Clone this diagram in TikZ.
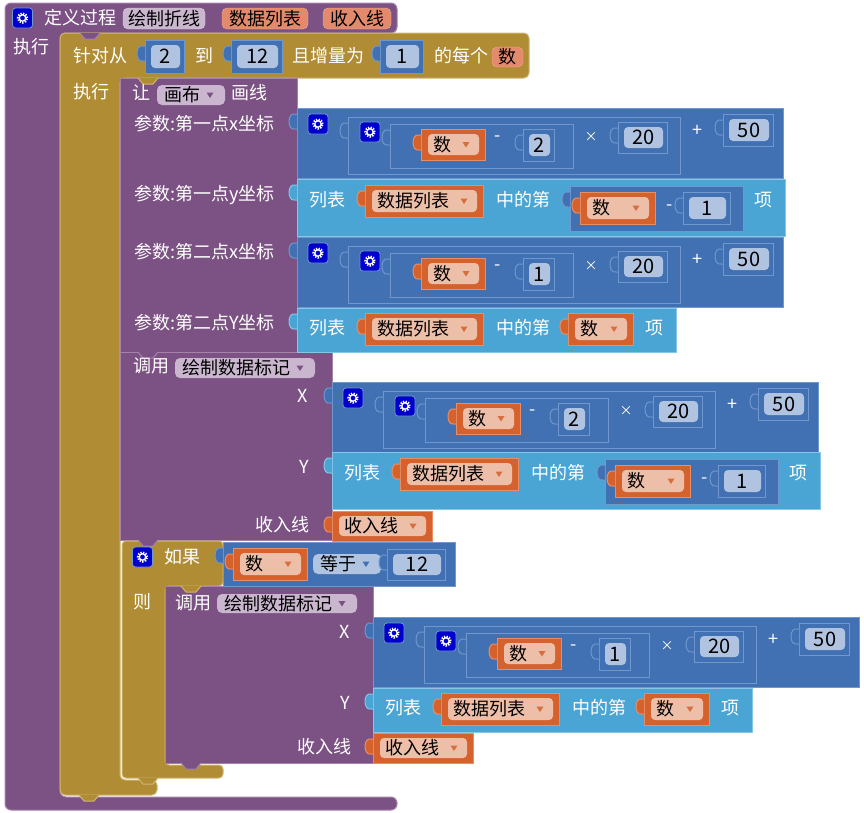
\documentclass[tikz,border=0pt]{standalone}
\usepackage{fontspec}
\setmainfont{Noto Sans CJK SC}
\usepackage{tikz}

\definecolor{procpurple}{RGB}{124,82,132}
\definecolor{procedge}{RGB}{165,130,170}
\definecolor{purplefld}{RGB}{202,183,207}
\definecolor{purpletri}{RGB}{124,82,132}
\definecolor{loopgold}{RGB}{176,141,52}
\definecolor{loopedge}{RGB}{208,183,112}
\definecolor{mathblue}{RGB}{65,113,178}
\definecolor{mathedge}{RGB}{112,152,206}
\definecolor{listblue}{RGB}{74,165,212}
\definecolor{listedge}{RGB}{135,198,230}
\definecolor{varorange}{RGB}{213,97,45}
\definecolor{varedge}{RGB}{232,142,102}
\definecolor{peach}{RGB}{237,190,168}
\definecolor{vartri}{RGB}{214,110,62}
\definecolor{salmon}{RGB}{228,138,108}
\definecolor{numfld}{RGB}{176,196,226}
\definecolor{gearblue}{RGB}{0,0,204}

\newcommand{\fs}{\fontsize{18}{20}\selectfont}
% output knob on the left side of a value block
\newcommand{\knob}[3]{\filldraw[#1] (#2,#3) -- (#2-2,#3) .. controls (#2-10,#3-2) and (#2-10,#3+17) .. (#2-2,#3+15) -- (#2,#3+15);}
% value block with its knob
\newcommand{\vblk}[5]{\filldraw[#1] (#2,#3) rectangle (#4,#5); \knob{#1}{#2}{#3+6}}
% tab under a statement block
\newcommand{\tabD}[3]{\filldraw[#1] (#2,#3) -- (#2+5,#3+6) -- (#2+15,#3+6) -- (#2+20,#3);}
\newcommand{\gear}[3]{%
  \filldraw[fill=gearblue,draw=mathedge,line width=0.8pt,rounded corners=3pt] (#2-10,#3-10) rectangle (#2+10,#3+10);
  \draw[white,line width=2.2pt,dash pattern=on 1.3pt off 1.3pt] (#2,#3) circle (4.6pt);
  \draw[white,line width=1.3pt] (#2,#3) circle (3.2pt);
  \coordinate (#1) at (#2,#3);}
\newcommand{\varget}[6]{%
  \vblk{varblk}{#2}{#3}{#4}{#5}
  \fill[peach,rounded corners=4pt] (#2+7,#3+5) rectangle (#4-6,#5-5);
  \node[fld,anchor=west] (#1) at ({#2+12},{(#3+#5)/2}) {#6};
  \fill[vartri] ({#4-22.5},{(#3+#5)/2-2.5}) -- ({#4-15.5},{(#3+#5)/2-2.5}) -- ({#4-19},{(#3+#5)/2+3}) -- cycle;}
\newcommand{\numblk}[6]{%
  \vblk{mathblk}{#2}{#3}{#4}{#5}
  \fill[numfld,rounded corners=4pt] (#2+6,#3+5) rectangle (#4-4,#5-5);
  \node[fld,font=\fontsize{20}{22}\selectfont] (#1) at ({(#2+#4)/2+1},{(#3+#5)/2}) {#6};}
\newcommand{\ddfld}[8]{%
  \fill[#6,rounded corners=5pt] (#2,#3) rectangle (#4,#5);
  \node[fld,anchor=west] (#1) at ({#2+7},{(#3+#5)/2}) {#8};
  \fill[#7] ({#4-18.5},{(#3+#5)/2-2.5}) -- ({#4-11.5},{(#3+#5)/2-2.5}) -- ({#4-15},{(#3+#5)/2+3}) -- cycle;}
\newcommand{\pfld}[7]{%
  \filldraw[fill=#6,draw=#6!70!white,rounded corners=5pt] (#2,#3) rectangle (#4,#5);
  \node[fld] (#1) at ({(#2+#4)/2},{(#3+#5)/2}) {#7};}
% (a - n) * 20 + 50
\newcommand{\mathrow}[4]{%
  \begin{scope}[shift={(#2,#3)},name prefix=#1-]
    \vblk{mathblk}{0}{0}{486}{70}
    \gear{g1}{21}{16}
    \vblk{mathblk}{51}{9}{383}{66}
    \gear{g2}{73}{24}
    \vblk{mathblk}{93}{16}{276}{60}
    \varget{v}{124}{21}{188}{52}{数}
    \node[lbl] (minus) at (201,31) {-};
    \numblk{a}{226}{21}{257}{53}{#4}
    \node[lbl,font=\fontsize{13}{14}\selectfont] (times) at (294,29) {×};
    \numblk{b}{321}{14}{370}{45}{20}
    \node[lbl] (plus) at (400,23) {+};
    \numblk{c}{426}{6}{476}{38}{50}
  \end{scope}}
% list item at index (a - 1)
\newcommand{\listrowA}[3]{%
  \begin{scope}[shift={(#2,#3)},name prefix=#1-]
    \vblk{listblk}{0}{0}{488}{57}
    \node[lbl] (lb) at (30,21) {列表};
    \varget{lst}{68}{6}{186}{38}{数据列表}
    \node[lbl] (of) at (226,21) {中的第};
    \vblk{mathblk}{273}{7}{446}{52}
    \varget{v}{283}{13}{358}{45}{数}
    \node[lbl] (minus) at (373,29) {-};
    \numblk{a}{386}{13}{433}{45}{1}
    \node[lbl] (item) at (466,21) {项};
  \end{scope}}
% list item at index a
\newcommand{\listrowB}[3]{%
  \begin{scope}[shift={(#2,#3)},name prefix=#1-]
    \vblk{listblk}{0}{0}{379}{44}
    \node[lbl] (lb) at (30,20) {列表};
    \varget{lst}{68}{5}{186}{37}{数据列表}
    \node[lbl] (of) at (226,20) {中的第};
    \varget{v}{271}{5}{336}{37}{数}
    \node[lbl] (item) at (357,20) {项};
  \end{scope}}

\begin{document}
\begin{tikzpicture}[x=1pt,y=-1pt,
    lbl/.style={text=white,inner sep=0pt,font=\fs},
    fld/.style={text=black,inner sep=0pt,font=\fs},
    procblk/.style={fill=procpurple,draw=procedge,line width=1pt},
    loopblk/.style={fill=loopgold,draw=loopedge,line width=1pt},
    mathblk/.style={fill=mathblue,draw=mathedge,line width=1pt},
    listblk/.style={fill=listblue,draw=listedge,line width=1pt},
    varblk/.style={fill=varorange,draw=varedge,line width=1pt}]
  \useasboundingbox (0,0) rectangle (864,812);

  % procedure
  \filldraw[procblk,rounded corners=6pt] (5,3) -- (397,3) -- (397,33) -- (60,33) -- (60,797) -- (397,797) -- (397,810) -- (5,810) -- cycle;
  % for loop
  \filldraw[loopblk,rounded corners=5pt] (60,33) -- (529,33) -- (529,78) -- (120,78) -- (120,780) -- (157,780) -- (157,795) -- (60,795) -- cycle;
  \tabD{procblk}{80}{33}
  \tabD{loopblk}{79}{795}
  % canvas draw line
  \filldraw[procblk] (120,78) rectangle (297,352);
  \tabD{loopblk}{138}{78}
  % call
  \filldraw[procblk] (120,352) rectangle (332,540);
  \tabD{procblk}{138}{352}
  % if
  \filldraw[loopblk,rounded corners=4pt] (122,541) -- (223,541) -- (223,586) -- (165,586) -- (165,765) -- (223,765) -- (223,778) -- (122,778) -- cycle;
  \tabD{procblk}{138}{540}
  \tabD{loopblk}{138}{778}
  % call inside if
  \filldraw[procblk] (165,586) rectangle (373,763);
  \tabD{loopblk}{181}{586}
  \tabD{procblk}{181}{763}

  % header
  \gear{pg}{22.5}{18}
  \node[lbl] (def) at (80,18) {定义过程};
  \pfld{pname}{123}{8}{205}{29}{purplefld}{绘制折线}
  \pfld{parA}{222}{8}{308}{29}{salmon}{数据列表}
  \pfld{parB}{323}{8}{391}{29}{salmon}{收入线}
  \node[lbl] (pdo) at (31,47) {执行};

  % loop header
  \node[lbl] (for) at (100,56) {针对从};
  \numblk{from}{145}{40}{184}{73}{2}
  \node[lbl] (to) at (204,56) {到};
  \numblk{upto}{231}{40}{282}{73}{12}
  \node[lbl] (by) at (328,56) {且增量为};
  \numblk{incr}{380}{40}{423}{73}{1}
  \node[lbl] (each) at (461,56) {的每个};
  \pfld{lv}{492}{47}{523}{67}{salmon}{数}
  \node[lbl] (ldo) at (91,92) {执行};

  % canvas draw line
  \node[lbl] (let) at (141,93) {让};
  \ddfld{canvas}{157}{85}{225}{105}{purplefld}{purpletri}{画布}
  \node[lbl] (line) at (249,93) {画线};
  \node[lbl,anchor=west] (p1) at (134,124) {参数:第一点x坐标};
  \node[lbl,anchor=west] (p2) at (134,195) {参数:第一点y坐标};
  \node[lbl,anchor=west] (p3) at (134,252) {参数:第二点x坐标};
  \node[lbl,anchor=west] (p4) at (134,323) {参数:第二点Y坐标};

  % call
  \node[lbl] (call) at (151,366) {调用};
  \ddfld{proc}{175}{358}{315}{378}{purplefld}{purpletri}{绘制数据标记}
  \node[lbl] (cxl) at (303,396) {X};
  \node[lbl] (cyl) at (304,467) {Y};
  \node[lbl,anchor=east] (cin) at (310,525) {收入线};

  % if
  \gear{ig}{142.5}{557}
  \node[lbl] (if) at (182,557) {如果};
  \node[lbl] (then) at (142,602) {则};
  \vblk{mathblk}{223}{542}{455}{586}
  \varget{cv}{233}{548}{307}{580}{数}
  \ddfld{eq}{313}{554}{381}{574}{numfld}{mathblue}{等于}
  \numblk{twelve}{387}{549}{445}{580}{12}

  % call inside if
  \node[lbl] (call2) at (193,603) {调用};
  \ddfld{proc2}{217}{594}{357}{613}{purplefld}{purpletri}{绘制数据标记}
  \node[lbl] (dxl) at (345,632) {X};
  \node[lbl] (dyl) at (345,703) {Y};
  \node[lbl,anchor=east] (din) at (352,747) {收入线};

  % inputs
  \foreach \p/\x/\y/\n in {xa/297/108/2, xb/297/237/1, cx/332/382/2, dx/373/617/1}
    {\mathrow{\p}{\x}{\y}{\n}}
  \listrowA{ya}{297}{179}
  \listrowA{cy}{332}{452}
  \listrowB{yb}{297}{308}
  \listrowB{dy}{373}{688}
  \varget{inc}{332}{511}{432}{541}{收入线}
  \varget{inc2}{373}{733}{473}{763}{收入线}
\end{tikzpicture}
\end{document}
